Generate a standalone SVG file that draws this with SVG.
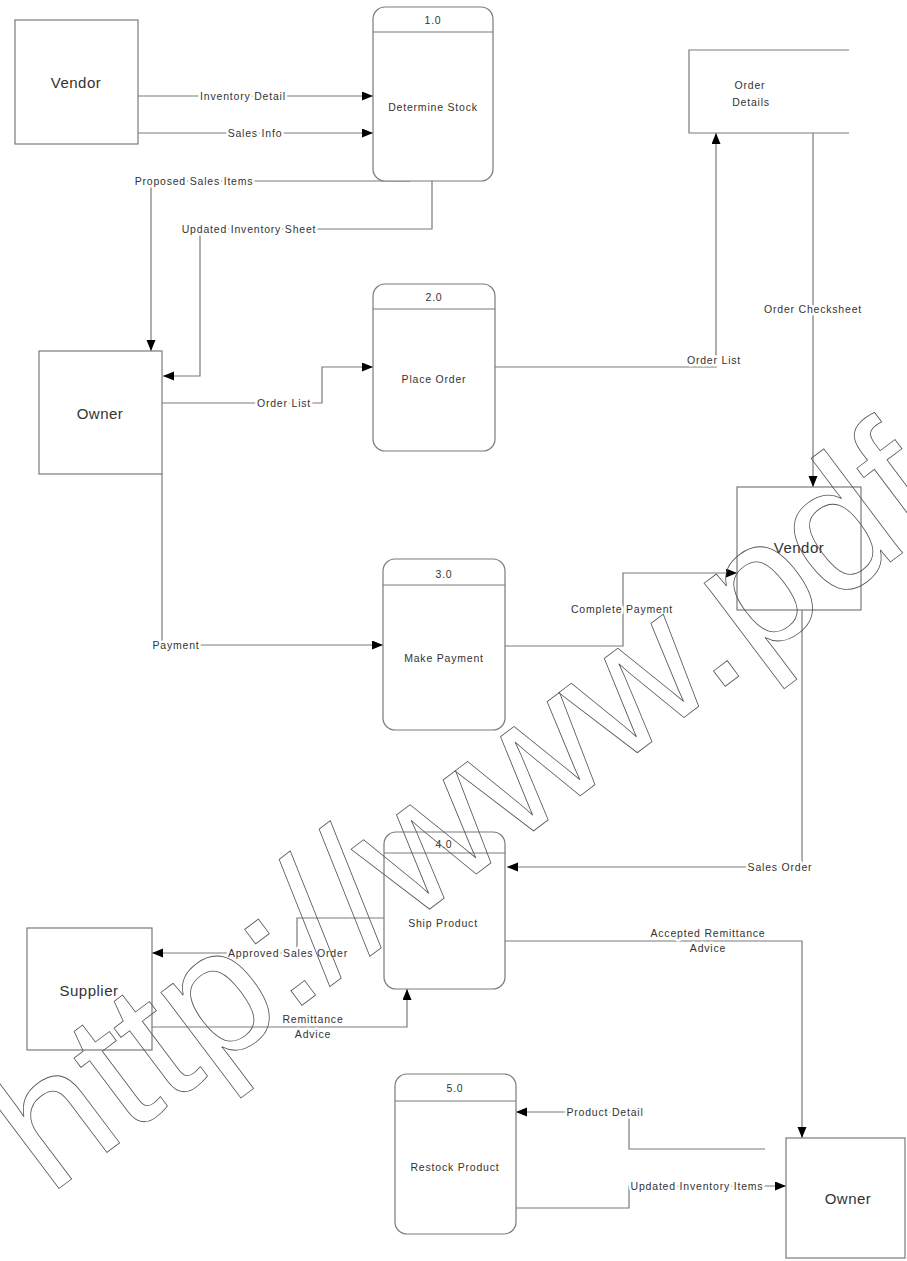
<svg xmlns="http://www.w3.org/2000/svg" width="907" height="1261" viewBox="0 0 907 1261">
<style>
.box{fill:#fff;stroke:#7a7a7a;stroke-width:1.2}
.store{fill:none;stroke:#7a7a7a;stroke-width:1.2}
.hdr{stroke:#7a7a7a;stroke-width:1.2}
.ent{font-family:"Liberation Sans",Arial,sans-serif;font-size:15px;fill:#333;text-anchor:middle;dominant-baseline:central;letter-spacing:0.5px}
.ptxt{font-family:"Liberation Sans",Arial,sans-serif;font-size:10.5px;fill:#333;text-anchor:middle;dominant-baseline:central;letter-spacing:0.8px}
.lbl{font-family:"Liberation Sans",Arial,sans-serif;font-size:10.5px;fill:#333;text-anchor:middle;dominant-baseline:central;letter-spacing:0.8px;stroke:#fff;stroke-width:5px;paint-order:stroke;stroke-linejoin:round}
.flow{fill:none;stroke:#7a7a7a;stroke-width:1.2;marker-end:url(#arr)}
.flow0{fill:none;stroke:#7a7a7a;stroke-width:1.2}
.wm{font-family:"Liberation Sans",Arial,sans-serif;font-size:180px;fill:none;stroke:#555;stroke-width:0.8}
</style>
<defs>
<marker id="arr" markerUnits="userSpaceOnUse" markerWidth="12" markerHeight="10" refX="11" refY="4.5" orient="auto">
<path d="M0,0 L11,4.5 L0,9 z" fill="#000"/>
</marker>
</defs>
<rect width="907" height="1261" fill="#fff"/>

<g id="connectors">
<path class="flow" d="M138,96 H373"/>
<path class="flow" d="M138,133 H373"/>
<path class="flow" d="M410,181 H151 V351"/>
<path class="flow" d="M432,181 V229 H200 V376 H163"/>
<path class="flow" d="M162,403 H322 V367 H373"/>
<path class="flow" d="M495,367 H716 V133"/>
<path class="flow" d="M813,133 V487"/>
<path class="flow" d="M162,474 V645 H383"/>
<path class="flow" d="M505,646 H623 V573 H737"/>
<path class="flow" d="M802,610 V867 H507"/>
<path class="flow" d="M505,941 H802 V1138"/>
<path class="flow" d="M384,918 H297 V953 H152"/>
<path class="flow" d="M152,1027 H407 V989"/>
<path class="flow" d="M765,1149 H629 V1112 H516"/>
<path class="flow" d="M516,1208 H629 V1186 H786"/>
<text class="lbl" x="243" y="96">Inventory Detail</text>
<text class="lbl" x="255" y="133">Sales Info</text>
<text class="lbl" x="194" y="181">Proposed Sales Items</text>
<text class="lbl" x="249" y="229">Updated Inventory Sheet</text>
<text class="lbl" x="284" y="403">Order List</text>
<text class="lbl" x="714" y="360">Order List</text>
<text class="lbl" x="813" y="309">Order Checksheet</text>
<text class="lbl" x="176" y="645">Payment</text>
<text class="lbl" x="622" y="609">Complete Payment</text>
<text class="lbl" x="780" y="867">Sales Order</text>
<text class="lbl" x="708" y="933">Accepted Remittance</text>
<text class="lbl" x="708" y="948">Advice</text>
<text class="lbl" x="288" y="953">Approved Sales Order</text>
<text class="lbl" x="313" y="1019">Remittance</text>
<text class="lbl" x="313" y="1034">Advice</text>
<text class="lbl" x="605" y="1112">Product Detail</text>
<text class="lbl" x="697" y="1186">Updated Inventory Items</text>
</g>

<g id="vendor-top">
<rect class="box" x="15" y="20" width="123" height="124"/>
<text class="ent" x="76" y="82">Vendor</text>
</g>
<g id="p1">
<rect class="box" x="373" y="7" width="120" height="174" rx="12"/>
<line class="hdr" x1="373" y1="32" x2="493" y2="32"/>
<text class="ptxt" x="433" y="20">1.0</text>
<text class="ptxt" x="433" y="107">Determine Stock</text>
</g>
<g id="order-details">
<path class="store" d="M849,50 H689 V133 H849"/>
<text class="ptxt" x="750" y="85">Order</text>
<text class="ptxt" x="751" y="102">Details</text>
</g>
<g id="owner-top">
<rect class="box" x="39" y="351" width="123" height="123"/>
<text class="ent" x="100" y="413">Owner</text>
</g>
<g id="p2">
<rect class="box" x="373" y="284" width="122" height="167" rx="12"/>
<line class="hdr" x1="373" y1="309" x2="495" y2="309"/>
<text class="ptxt" x="434" y="297">2.0</text>
<text class="ptxt" x="434" y="379">Place Order</text>
</g>
<g id="vendor-right">
<rect class="box" x="737" y="487" width="124" height="123"/>
<text class="ent" x="799" y="547">Vendor</text>
</g>
<g id="p3">
<rect class="box" x="383" y="559" width="122" height="171" rx="12"/>
<line class="hdr" x1="383" y1="585" x2="505" y2="585"/>
<text class="ptxt" x="444" y="574">3.0</text>
<text class="ptxt" x="444" y="658">Make Payment</text>
</g>
<g id="p4">
<rect class="box" x="384" y="832" width="121" height="157" rx="12"/>
<line class="hdr" x1="384" y1="853" x2="505" y2="853"/>
<text class="ptxt" x="444" y="844">4.0</text>
<text class="ptxt" x="443" y="923">Ship Product</text>
</g>
<g id="supplier">
<rect class="box" x="27" y="928" width="125" height="122"/>
<text class="ent" x="89" y="990">Supplier</text>
</g>
<g id="p5">
<rect class="box" x="395" y="1074" width="121" height="160" rx="12"/>
<line class="hdr" x1="395" y1="1101" x2="516" y2="1101"/>
<text class="ptxt" x="455" y="1088">5.0</text>
<text class="ptxt" x="455" y="1167">Restock Product</text>
</g>
<g id="owner-bottom">
<rect class="box" x="786" y="1138" width="119" height="120"/>
<text class="ent" x="848" y="1198">Owner</text>
</g>

<g id="watermark">
<text class="wm" x="49" y="1196" transform="rotate(-37 49 1196)">http://www.pdf</text>
</g>
</svg>
